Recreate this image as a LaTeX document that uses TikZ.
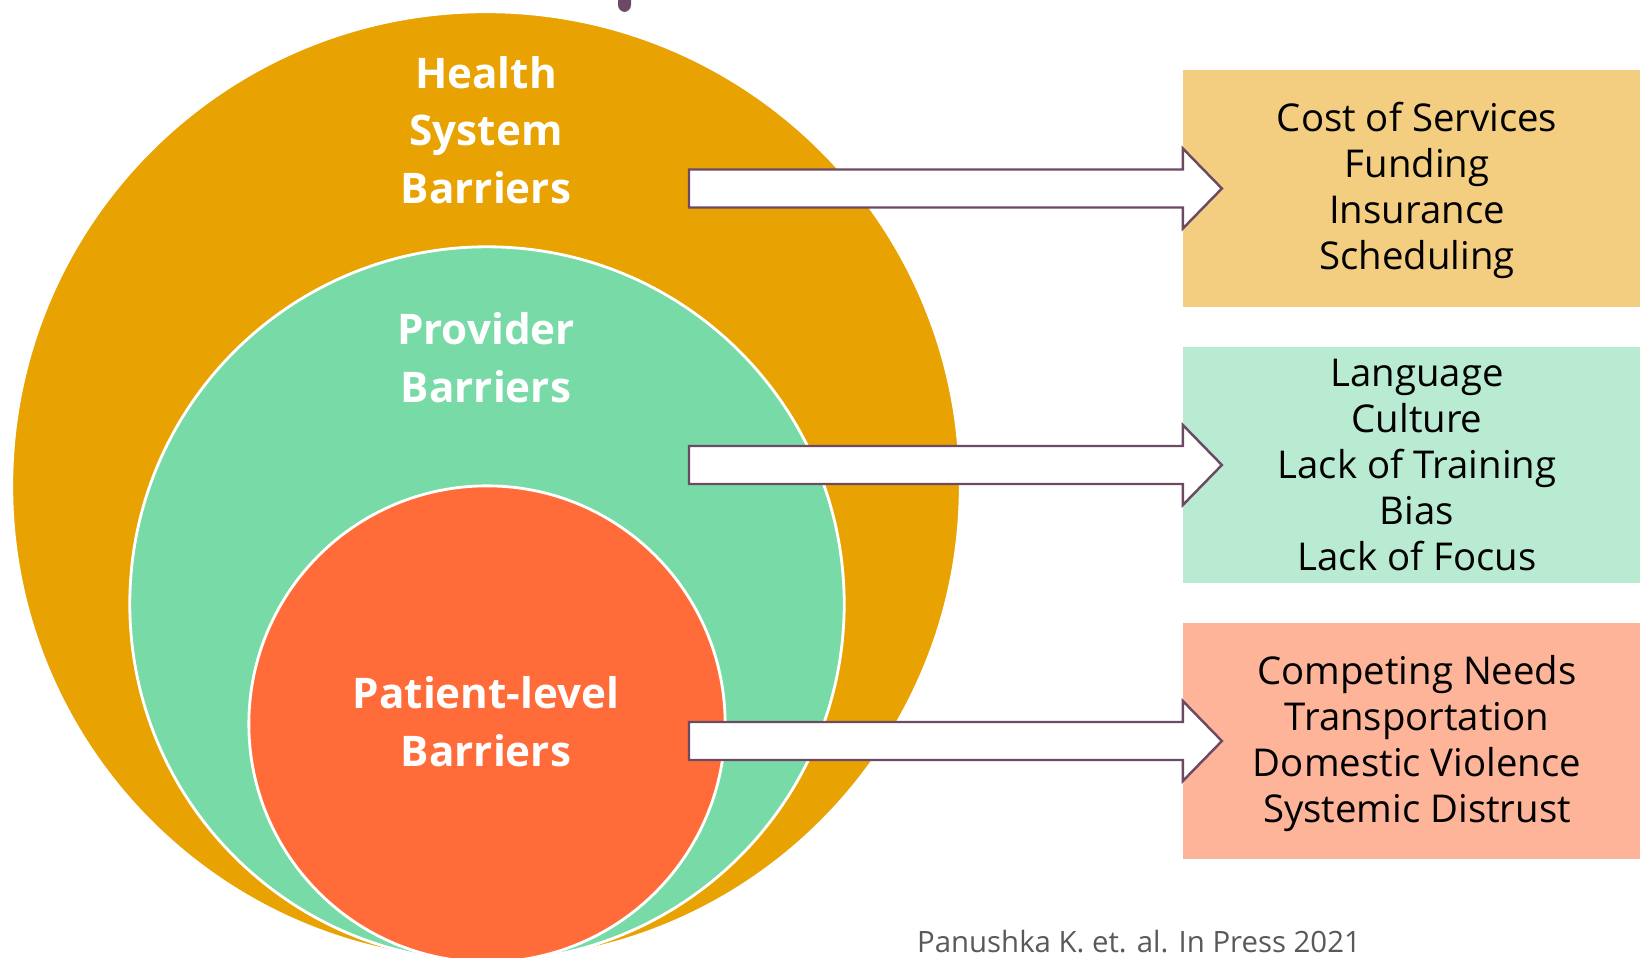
\documentclass[tikz,border=0pt]{standalone}
\usepackage{fontspec}
\setmainfont{Open Sans}
\usetikzlibrary{calc}

\definecolor{hsgold}{HTML}{E8A202}
\definecolor{provgreen}{HTML}{78DBA7}
\definecolor{patred}{HTML}{FF6B39}
\definecolor{costfill}{HTML}{F3CE80}
\definecolor{langfill}{HTML}{B9EBD3}
\definecolor{needsfill}{HTML}{FDB498}
\definecolor{plum}{HTML}{6C4A64}
\definecolor{citegray}{HTML}{595959}

\begin{document}
\begin{tikzpicture}[x=0.01cm, y=-0.01cm]
    \tikzstyle{ring} = [circle, draw=white, line width=0.8pt, inner sep=0pt, outer sep=0pt]
    \tikzstyle{ringlabel} = [text=white, align=center, font=\bfseries\fontsize{12}{16.4}\selectfont]
    \tikzstyle{listbox} = [rectangle, minimum width=4.68cm, minimum height=2.36cm, align=center, inner sep=0pt, outer sep=0pt, font=\fontsize{10.9}{13.1}\selectfont]
    \tikzstyle{blockarrow} = [draw=plum, line width=0.7pt, fill=white, line join=miter]

    \useasboundingbox (0,0) rectangle (1640,958);

    % stub of the slide title
    \fill[plum, rounded corners=2pt] (618,-10) rectangle (631,12);

    % nested circles
    \node (hsring) [ring, fill=hsgold, minimum size=9.48cm] at (486,486) {};
    \node (prring) [ring, fill=provgreen, minimum size=7.14cm] at (487,604) {};
    \node (ptring) [ring, fill=patred, minimum size=4.76cm] at (487,724) {};

    \node (hslabel) [ringlabel] at (486,130) {Health\\System\\Barriers};
    \node (prlabel) [ringlabel] at (486,358) {Provider\\Barriers};
    \node (ptlabel) [ringlabel] at (486,722) {Patient-level\\Barriers};

    % lists on the right
    \node (cost) [listbox, fill=costfill, minimum height=2.37cm] at (1417,188.5) {\rule{0pt}{9.6pt}Cost of Services\\Funding\\Insurance\\Scheduling};
    \node (lang) [listbox, fill=langfill] at (1417,465) {Language\\Culture\\Lack of Training\\Bias\\Lack of Focus};
    \node (needs) [listbox, fill=needsfill] at (1417,741) {\rule{0pt}{9.6pt}Competing Needs\\Transportation\\Domestic Violence\\Systemic Distrust};

    % block arrows
    \coordinate (hstail) at (689,188.5);
    \coordinate (prtail) at (689,465);
    \coordinate (pttail) at (689,741);
    \foreach \tail/\dst in {hstail/cost, prtail/lang, pttail/needs}
        \draw[blockarrow] ($(\tail)+(0,-19)$) -- ($(\dst.west)+(0,-19)$) -- ($(\dst.west)+(0,-40)$)
            -- ($(\dst.west)+(39,0)$) -- ($(\dst.west)+(0,40)$) -- ($(\dst.west)+(0,19)$)
            -- ($(\tail)+(0,19)$) -- cycle;

    \node (cite) [anchor=base, text=citegray, font=\fontsize{8.35}{10}\selectfont] at (1139,952) {Panushka K. et. al. In Press 2021};
\end{tikzpicture}
\end{document}
